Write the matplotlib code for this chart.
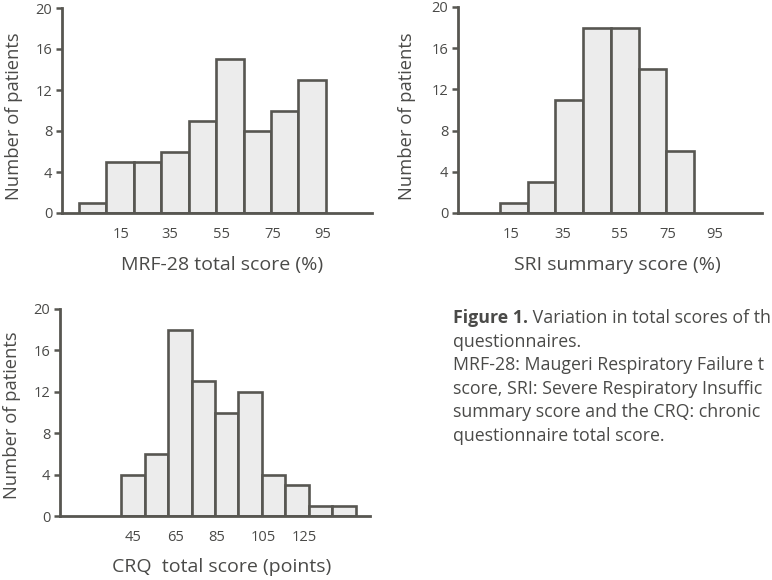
import matplotlib
matplotlib.use("Agg")
import matplotlib.pyplot as plt

plt.rcParams['font.family'] = ['Open Sans', 'DejaVu Sans']

# ---- data ----
mrf_counts = [1, 5, 5, 6, 9, 15, 8, 10, 13]
sri_counts = [1, 3, 11, 18, 18, 14, 6]
crq_counts = [4, 6, 18, 13, 10, 12, 4, 3, 1, 1]

mrf_ticklabels = ["15", "35", "55", "75", "95"]
sri_ticklabels = ["15", "35", "55", "75", "95"]
crq_ticklabels = ["45", "65", "85", "105", "125"]

y_ticks = [0, 4, 8, 12, 16, 20]

mrf_xlabel = "MRF-28 total score (%)"
sri_xlabel = "SRI summary score (%)"
crq_xlabel = "CRQ  total score (points)"
ylabel = "Number of patients"

# caption as visible in the reference (cropped at the right edge)
caption_lines = [
    ("Figure 1.", " Variation in total scores of th"),
    ("", "questionnaires."),
    ("", "MRF-28: Maugeri Respiratory Failure t"),
    ("", "score, SRI: Severe Respiratory Insuffic"),
    ("", "summary score and the CRQ: chronic"),
    ("", "questionnaire total score."),
]

# ---- style ----
AX_COL = "#575651"
TXT_COL = "#4a4a48"
FILL = "#ececec"

W, H = 772, 580
fig = plt.figure(figsize=(W / 100, H / 100), dpi=100)


def px_axes(left, right, top, bottom):
    return fig.add_axes([left / W, 1 - bottom / H, (right - left) / W, (bottom - top) / H])


def panel(ax, counts, tick_pos, ticklabels, xlim, xlabel, xlab_pos, ylab_pos):
    idx = list(range(len(counts)))
    ax.bar(idx, counts, width=1.0, color=FILL, edgecolor=AX_COL, linewidth=1.9, zorder=2)
    ax.set_xlim(*xlim)
    ax.set_ylim(0, 20)
    for s in ["top", "right"]:
        ax.spines[s].set_visible(False)
    for s in ["left", "bottom"]:
        ax.spines[s].set_color(AX_COL)
        ax.spines[s].set_linewidth(2.0)
        ax.spines[s].set_zorder(3)
    ax.set_yticks(y_ticks)
    ax.set_yticklabels([str(v) for v in y_ticks])
    ax.tick_params(axis="y", direction="out", length=4, width=1.8, color=AX_COL,
                   labelsize=10.5, labelcolor=TXT_COL, pad=3)
    ax.set_xticks(tick_pos)
    ax.set_xticklabels(ticklabels)
    ax.tick_params(axis="x", length=0, labelsize=10.5, labelcolor=TXT_COL, pad=10)
    ax.text(xlab_pos[0], xlab_pos[1], xlabel, transform=ax.transAxes, ha="center", va="center",
            fontsize=14, color=TXT_COL)
    ax.text(ylab_pos[0], ylab_pos[1], ylabel, transform=ax.transAxes, ha="center", va="center",
            rotation=90, fontsize=13.2, color=TXT_COL)
    ax.set_facecolor("none")


ax1 = px_axes(62, 372, 8, 213)
panel(ax1, mrf_counts, [1.02, 2.82, 4.7, 6.57, 8.39], mrf_ticklabels, (-1.12, 10.18),
      mrf_xlabel, (0.516, -0.254), (-0.156, 0.473))

ax2 = px_axes(458, 762, 7, 213)
panel(ax2, sri_counts, [-0.1, 1.77, 3.83, 5.56, 7.26], sri_ticklabels, (-2.02, 8.96),
      sri_xlabel, (0.523, -0.254), (-0.169, 0.468))

ax3 = px_axes(60, 370, 309, 516)
panel(ax3, crq_counts, [0.01, 1.8, 3.59, 5.54, 7.29], crq_ticklabels, (-3.1, 10.1),
      crq_xlabel, (0.521, -0.248), (-0.156, 0.487))

# ---- caption ----
fig.canvas.draw()
renderer = fig.canvas.get_renderer()
x0 = 453
y_first = 318
line_h = 23.6
for k, (bold, rest) in enumerate(caption_lines):
    y = 1 - (y_first + k * line_h) / H
    xpos = x0 / W
    if bold:
        t = fig.text(xpos, y, bold, fontsize=12.8, fontweight="bold", color=TXT_COL,
                     ha="left", va="center")
        bb = t.get_window_extent(renderer=renderer)
        xpos = bb.x1 / W
    fig.text(xpos, y, rest, fontsize=12.8, color=TXT_COL, ha="left", va="center")

fig.savefig("out.png", dpi=100)
